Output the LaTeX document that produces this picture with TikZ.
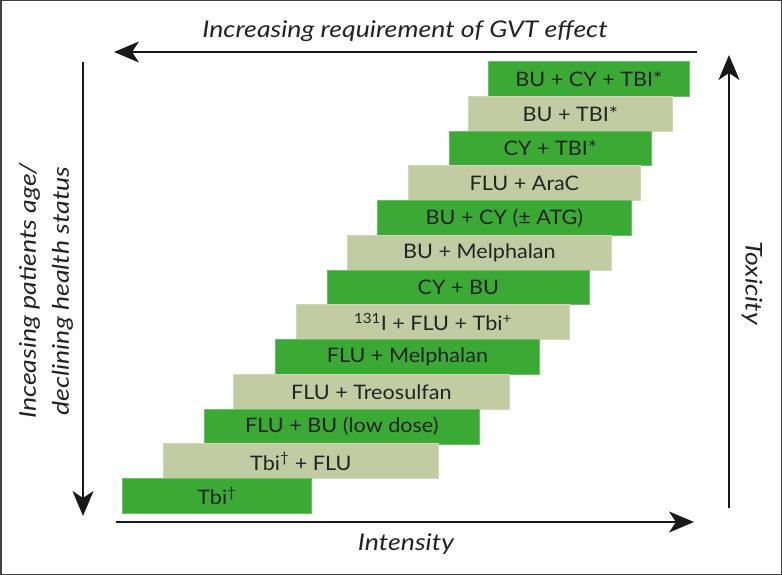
\documentclass[tikz,border=0pt]{standalone}
\usepackage{fontspec}
\setmainfont[FakeStretch=1.08]{Lato}
\newfontfamily\axisfont[FakeStretch=1.16]{Lato}
\usetikzlibrary{arrows.meta, positioning}
\definecolor{bargreen}{RGB}{58,170,53}
\definecolor{barkhaki}{RGB}{194,203,162}
\definecolor{inktext}{RGB}{35,35,35}

\tikzset{
  bar/.style={anchor=north west, inner sep=0pt, minimum height=34.8pt,
    font=\fontsize{20}{20}\selectfont, text=inktext, line width=0.8pt},
  greenbar/.style={bar, fill=bargreen, draw=bargreen!75!white},
  khakibar/.style={bar, fill=barkhaki, draw=barkhaki!75!white},
  axisarrow/.style={line width=2.2pt, draw=black!90,
    -{Stealth[length=25pt, width=21pt, inset=7pt]}},
  axislabel/.style={font=\axisfont\fontsize{23}{33}\selectfont\itshape, text=inktext, inner sep=0pt}
}

\begin{document}
\begin{tikzpicture}[x=1pt, y=-1pt]

\useasboundingbox (0,0) rectangle (782,575);
\draw[line width=1.5pt, black!75] (0.75,0.75) rectangle (781.25,574.25);

% regimen bars, top to bottom
\foreach \l/\r/\s/\t [count=\i] in {
    488/689/greenbar/{BU + CY + TBI*},
    468/672/khakibar/{BU + TBI*},
    449/651/greenbar/{CY + TBI*},
    408/640/khakibar/{FLU + AraC},
    377/631/greenbar/{BU + CY (± ATG)},
    347/611/khakibar/{BU + Melphalan},
    327/589/greenbar/{CY + BU},
    296/569/khakibar/{\textsuperscript{131}I + FLU + Tbi\textsuperscript{+}},
    275/539/greenbar/{FLU + Melphalan},
    233/509/khakibar/{FLU + Treosulfan},
    204/479/greenbar/{FLU + BU (low dose)},
    163/438/khakibar/{Tbi\textsuperscript{†} + FLU},
    122/311/greenbar/{Tbi\textsuperscript{†}}} {
  \node[\s, minimum width=\r-\l] (row\i) at (\l, {61+(\i-1)*34.77}) {\t};
}

% axes
\coordinate (gvtstart) at (697,52);
\coordinate (gvtend) at (114,52);
\coordinate (agestart) at (83,62);
\coordinate (ageend) at (83,516);
\coordinate (intstart) at (116,522);
\coordinate (intend) at (694,522);
\coordinate (toxstart) at (729,508);
\coordinate (toxend) at (729,55);

\draw[axisarrow] (gvtstart) -- (gvtend);
\draw[axisarrow] (agestart) -- (ageend);
\draw[axisarrow] (intstart) -- (intend);
\draw[axisarrow] (toxstart) -- (toxend);

\node[axislabel, anchor=base] (gvt) at (405,38) {Increasing requirement of GVT effect};
\node[axislabel, anchor=base] (intensity) at (406,550) {Intensity};
\node[axislabel, rotate=90, align=center] (age) at (46,291) {Inceasing patients age/\\declining health status};
\node[axislabel, rotate=-90] (toxicity) at (752,283) {Toxicity};

\end{tikzpicture}
\end{document}
